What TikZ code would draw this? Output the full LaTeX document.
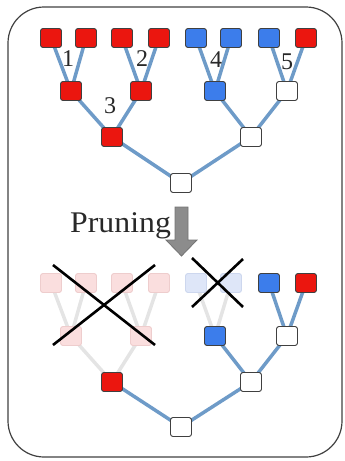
\documentclass[tikz,border=0pt]{standalone}
\usepackage{fontspec}
\setmainfont{Liberation Serif}
\usetikzlibrary{backgrounds}
\definecolor{edgeblue}{RGB}{110,155,200}
\definecolor{nred}{RGB}{235,22,15}
\definecolor{nblue}{RGB}{60,125,235}
\definecolor{fpink}{RGB}{250,222,222}
\definecolor{fpinkd}{RGB}{238,205,205}
\definecolor{fblue}{RGB}{222,230,248}
\definecolor{fblued}{RGB}{205,215,238}
\definecolor{fedge}{RGB}{228,228,228}
\definecolor{txt}{RGB}{40,40,40}
\begin{document}
\begin{tikzpicture}[x=1pt,y=-1pt,
  sq/.style={draw=black!75, rounded corners=2.5pt, minimum width=21pt, minimum height=19pt, inner sep=0pt, line width=0.9pt},
  rn/.style={sq, fill=nred},
  bn/.style={sq, fill=nblue},
  wn/.style={sq, fill=white},
  pn/.style={sq, fill=fpink, draw=fpinkd},
  fbn/.style={sq, fill=fblue, draw=fblued},
  ed/.style={draw=edgeblue, line width=3.5pt},
  fed/.style={draw=fedge, line width=3.5pt},
  lab/.style={font=\fontsize{24}{24}\selectfont, text=txt, inner sep=0pt},
  crossl/.style={draw=black, line width=2.6pt}
]
\useasboundingbox (0,0) rectangle (345,461);
\draw[draw=black!75, line width=1.2pt, rounded corners=36pt] (8,7) rectangle (342,457);

% ---------- top tree ----------
\node[rn] (t1) at (51,38) {};
\node[rn] (t2) at (86,38) {};
\node[rn] (t3) at (122,38) {};
\node[rn] (t4) at (159,38) {};
\node[bn] (t5) at (196,38) {};
\node[bn] (t6) at (231,38) {};
\node[bn] (t7) at (269,38) {};
\node[rn] (t8) at (306,38) {};
\node[rn] (ta) at (71,91) {};
\node[rn] (tb) at (141,91) {};
\node[bn] (tc) at (215,91) {};
\node[wn] (td) at (287,91) {};
\node[rn] (te) at (112,137) {};
\node[wn] (tf) at (251,137) {};
\node[wn] (tr) at (181,183) {};
\begin{scope}[on background layer]
\path[ed] (t1.center) -- (ta.center) -- (t2.center);
\path[ed] (t3.center) -- (tb.center) -- (t4.center);
\path[ed] (t5.center) -- (tc.center) -- (t6.center);
\path[ed] (t7.center) -- (td.center) -- (t8.center);
\path[ed] (ta.center) -- (te.center) -- (tb.center);
\path[ed] (tc.center) -- (tf.center) -- (td.center);
\path[ed] (te.center) -- (tr.center) -- (tf.center);
\end{scope}
\node[lab] (l1) at (68,59) {1};
\node[lab] (l2) at (142,59) {2};
\node[lab] (l3) at (110,106) {3};
\node[lab] (l4) at (216,60) {4};
\node[lab] (l5) at (287,62) {5};

% ---------- pruning ----------
\node[font=\fontsize{30}{30}\selectfont, text=txt, inner sep=0pt, anchor=base west, xscale=1.06] (pr) at (70,232) {Pruning};
\draw[draw=black!55, fill=black!45, line width=0.8pt] (175,207) -- (188,207) -- (188,240) -- (197,240) -- (181.5,256) -- (166,240) -- (175,240) -- cycle;

% ---------- bottom tree ----------
\node[pn] (p1) at (51,283) {};
\node[pn] (p2) at (86,283) {};
\node[pn] (p3) at (122,283) {};
\node[pn] (p4) at (159,283) {};
\node[fbn] (p5) at (196,283) {};
\node[fbn] (p6) at (231,283) {};
\node[bn] (b7) at (269,283) {};
\node[rn] (b8) at (306,283) {};
\node[pn] (pa) at (71,336) {};
\node[pn] (pb) at (141,336) {};
\node[bn] (bc) at (215,336) {};
\node[wn] (bd) at (287,336) {};
\node[rn] (be) at (112,382) {};
\node[wn] (bf) at (251,382) {};
\node[wn] (br) at (181,427) {};
\begin{scope}[on background layer]
\path[fed] (p1.center) -- (pa.center) -- (p2.center);
\path[fed] (p3.center) -- (pb.center) -- (p4.center);
\path[fed] (p5.center) -- (bc.center) -- (p6.center);
\path[fed] (pa.center) -- (be.center) -- (pb.center);
\path[ed] (b7.center) -- (bd.center) -- (b8.center);
\path[ed] (bc.center) -- (bf.center) -- (bd.center);
\path[ed] (be.center) -- (br.center) -- (bf.center);
\end{scope}
% crosses
\coordinate (x1) at (53,265);
\coordinate (x2) at (155,345);
\coordinate (x3) at (155,265);
\coordinate (x4) at (53,345);
\draw[crossl] (x1) -- (x2);
\draw[crossl] (x3) -- (x4);
\coordinate (y1) at (192,258);
\coordinate (y2) at (243,307);
\coordinate (y3) at (243,259);
\coordinate (y4) at (192,307);
\draw[crossl] (y1) -- (y2);
\draw[crossl] (y3) -- (y4);
\end{tikzpicture}
\end{document}
